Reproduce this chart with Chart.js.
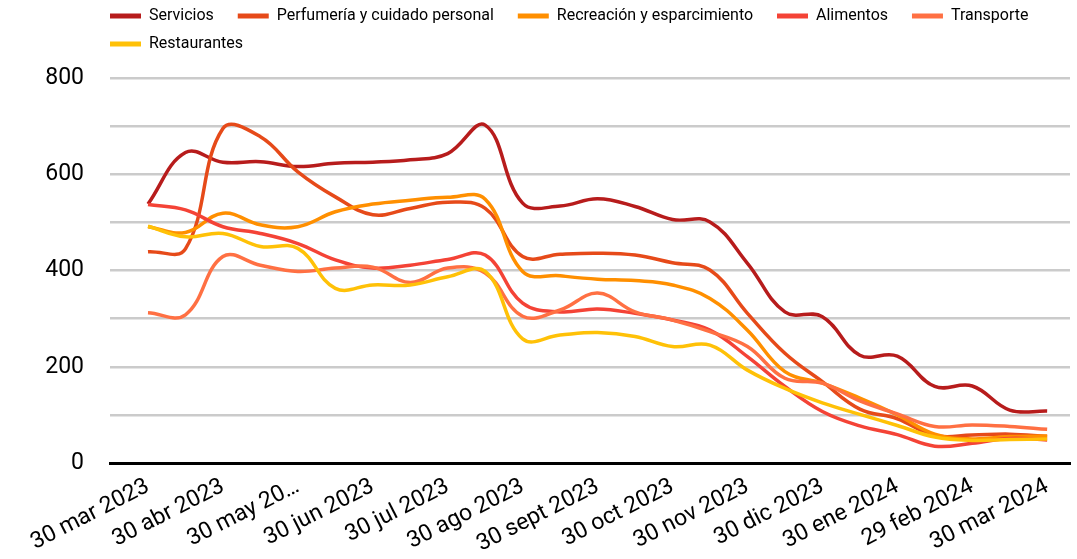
<!DOCTYPE html>
<html>
<head>
<meta charset="utf-8">
<script src="https://cdn.jsdelivr.net/npm/chart.js@4.4.1/dist/chart.umd.min.js"></script>
<style>
  body { margin: 0; background: #fff; }
</style>
</head>
<body>
<canvas id="mycanvas1" width="1077" height="559"></canvas>
<script>
// tick labels, one every two data points (points are semi-monthly)
var tickLabels = ['30 mar 2023', '30 abr 2023', '30 may 20\u2026', '30 jun 2023', '30 jul 2023',
  '30 ago 2023', '30 sept 2023', '30 oct 2023', '30 nov 2023', '30 dic 2023',
  '30 ene 2024', '29 feb 2024', '30 mar 2024'];

var seriesNames = ['Servicios', 'Perfumería y cuidado personal', 'Recreación y esparcimiento',
  'Alimentos', 'Transporte', 'Restaurantes'];

var servicios    = [538, 645, 625, 626, 616, 623, 625, 630, 643, 702, 540, 534, 549, 533, 506, 501, 415, 314, 304, 224, 222, 159, 160, 110, 108];
var perfumeria   = [439, 445, 695, 678, 605, 553, 516, 529, 542, 529, 429, 434, 436, 432, 416, 401, 311, 228, 169, 112, 92, 57, 58, 60, 55];
var recreacion   = [491, 479, 519, 495, 491, 522, 538, 546, 552, 548, 398, 389, 382, 379, 370, 342, 276, 190, 166, 135, 100, 60, 50, 55, 56];
var alimentos    = [537, 526, 491, 477, 456, 422, 405, 411, 423, 432, 332, 314, 320, 311, 297, 276, 221, 159, 107, 77, 59, 35, 41, 51, 48];
var transporte   = [312, 308, 429, 411, 398, 405, 407, 375, 405, 395, 305, 318, 353, 314, 297, 273, 242, 176, 166, 129, 102, 76, 79, 76, 70];
var restaurantes = [492, 470, 477, 450, 446, 363, 370, 370, 387, 398, 258, 266, 271, 263, 242, 245, 193, 155, 125, 101, 78, 54, 47, 49, 50];

var colors = ['#B71C1C', '#E64A19', '#FF8F00', '#F44336', '#FF7043', '#FFC107'];
var allSeries = [servicios, perfumeria, recreacion, alimentos, transporte, restaurantes];

var datasets = [];
for (var i in allSeries) {
  var pts = [];
  for (var j in allSeries[i]) {
    pts.push({x: Number(j), y: allSeries[i][j]});
  }
  datasets.push({
    label: seriesNames[i],
    data: pts,
    borderColor: colors[i],
    backgroundColor: colors[i],
    borderWidth: 3.5,
    pointRadius: 0,
    tension: 0.4,
    fill: false,
    order: allSeries.length - i   // later series drawn on top
  });
}

// move the legend to the left of the plot and up a bit
var legendShift = {
  id: 'legendShift',
  afterLayout: function(chart) {
    chart.legend.left = 98;
    chart.legend.top = -4;
  }
};

var ctx = document.getElementById('mycanvas1');
var lineChart = new Chart(ctx, {
  type: 'line',
  data: { datasets: datasets },
  plugins: [legendShift],
  options: {
    responsive: false,
    animation: false,
    layout: { padding: { top: 12, right: 7, left: 0, bottom: 0 } },
    plugins: {
      tooltip: { enabled: false },
      legend: {
        position: 'top',
        align: 'start',
        labels: {
          boxWidth: 31,
          boxHeight: 5,
          padding: 12,
          color: '#000',
          font: { family: 'Roboto', size: 16 },
          sort: function(a, b) { return a.datasetIndex - b.datasetIndex; },
          generateLabels: function(chart) {
            var items = Chart.defaults.plugins.legend.labels.generateLabels(chart);
            items.forEach(function(it) {
              it.text = it.text + '   ';
              it.lineWidth = 0;
            });
            return items;
          }
        }
      }
    },
    scales: {
      x: {
        type: 'linear',
        min: -1.014,
        max: 24.61,
        grid: { display: false },
        border: { display: true, color: '#000', width: 3 },
        afterBuildTicks: function(scale) {
          var t = [];
          for (var k = 0; k < tickLabels.length; k++) t.push({value: k * 2});
          scale.ticks = t;
        },
        afterFit: function(scale) { scale.height = 96; },
        ticks: {
          autoSkip: false,
          maxRotation: 27,
          minRotation: 27,
          padding: 2,
          color: '#000',
          font: { family: 'Roboto', size: 23 },
          callback: function(v) { return tickLabels[v / 2]; }
        }
      },
      y: {
        min: 0,
        max: 800,
        border: { display: false },
        grid: { color: '#cbcbcb', lineWidth: 2.5, drawTicks: false },
        afterFit: function(scale) { scale.width = 110; },
        ticks: {
          stepSize: 100,
          padding: 26,
          color: '#000',
          font: { family: 'Roboto', size: 23 },
          callback: function(v) { return v % 200 === 0 ? v : ''; }
        }
      }
    }
  }
});
</script>
</body>
</html>
